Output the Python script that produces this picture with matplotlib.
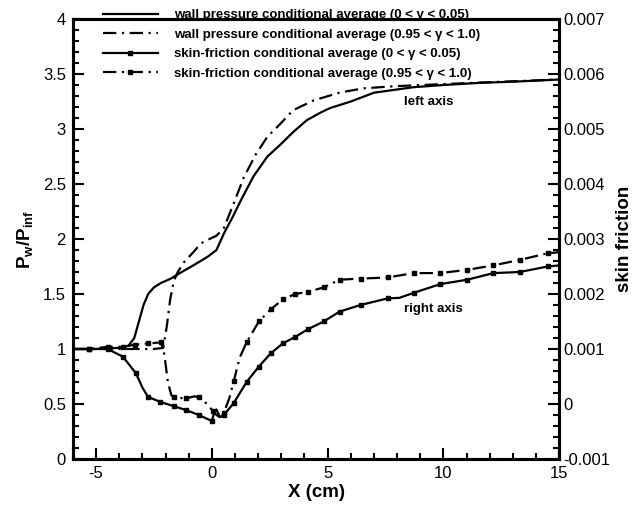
import numpy as np
import matplotlib
matplotlib.use("Agg")
import matplotlib.pyplot as plt
from matplotlib.ticker import MultipleLocator

plt.rcParams['font.family'] = ['Liberation Sans', 'DejaVu Sans']
plt.rcParams['mathtext.fontset'] = 'custom'
plt.rcParams['mathtext.rm'] = 'Liberation Sans'
plt.rcParams['mathtext.bf'] = 'Liberation Sans:bold'
plt.rcParams['axes.unicode_minus'] = False

# wall pressure, 0 < gamma < 0.05 (left axis)
p_lo_x = [-6, -5, -4, -3.6, -3.35, -3.15, -2.95, -2.75, -2.5, -2.2, -1.77, -1.3, -0.8, -0.17, 0.2,
          0.52, 0.9, 1.25, 1.8, 2.4, 2.97, 3.5, 4.1, 4.7, 5.1, 6.0, 7.0, 8.7, 10, 11.6, 13, 15]
p_lo_y = [1.0, 1.0, 1.01, 1.03, 1.1, 1.25, 1.4, 1.5, 1.56, 1.6, 1.64, 1.7, 1.76, 1.84, 1.9,
          2.05, 2.2, 2.35, 2.57, 2.75, 2.86, 2.97, 3.08, 3.15, 3.19, 3.25, 3.33, 3.38, 3.40, 3.42, 3.43, 3.45]

# wall pressure, 0.95 < gamma < 1.0 (left axis)
p_hi_x = [-6, -4, -2.5, -2.1, -1.95, -1.8, -1.64, -1.47, -1.2, -0.8, -0.47, -0.1, 0.2, 0.52, 0.9,
          1.38, 1.9, 2.4, 2.97, 3.5, 4.4, 5.5, 6.55, 8, 10.2, 12.5, 15]
p_hi_y = [1.0, 1.0, 1.0, 1.01, 1.2, 1.45, 1.62, 1.7, 1.79, 1.88, 1.96, 2.0, 2.03, 2.1, 2.3,
          2.56, 2.77, 2.93, 3.05, 3.17, 3.26, 3.33, 3.37, 3.39, 3.41, 3.43, 3.45]

# skin friction, 0 < gamma < 0.05 (right axis)
cf_lo_x = [-6, -5.3, -4.5, -3.84, -3.28, -3.0, -2.76, -2.24, -1.64, -1.12, -0.56, 0.0, 0.1, 0.2,
           0.35, 0.52, 0.95, 1.5, 2.03, 2.54, 3.06, 3.6, 4.15, 4.83, 5.52, 6.42, 7.59, 8.1, 8.71,
           9.87, 11.03, 12.16, 13.3, 14.5, 15]
cf_lo_y = [0.0010, 0.0010, 0.0010, 0.00086, 0.00056, 0.00030, 0.00013, 0.00004, -0.00004, -0.00011,
           -0.00020, -0.00031, -0.00016, -0.00010, -0.00024, -0.00020, 0.00002, 0.00040, 0.00068,
           0.00092, 0.00110, 0.00122, 0.00136, 0.00150, 0.00168, 0.00180, 0.00192, 0.00193, 0.00202,
           0.00218, 0.00226, 0.00238, 0.00240, 0.00250, 0.00252]
cf_lo_marks = [1, 2, 3, 4, 6, 7, 8, 9, 10, 11, 15, 16, 17, 18, 19, 20, 21, 22, 23, 24, 25, 26,
               28, 29, 30, 31, 32, 33]

# skin friction, 0.95 < gamma < 1.0 (right axis)
cf_hi_x = [-6, -5.3, -4.5, -3.84, -3.3, -2.76, -2.2, -2.05, -1.9, -1.75, -1.64, -1.12, -0.75, -0.56,
           -0.3, -0.1, 0.04, 0.2, 0.4, 0.52, 0.75, 0.95, 1.2, 1.5, 2.03, 2.54, 3.06, 3.6, 4.15, 4.83,
           5.52, 6.42, 7.59, 8.71, 9.87, 11.03, 12.16, 13.3, 14.5, 15]
cf_hi_y = [0.0010, 0.0010, 0.00104, 0.00104, 0.00108, 0.00110, 0.00112, 0.00090, 0.00040, 0.00016,
           0.00012, 0.00010, 0.00014, 0.00012, 0.00004, -0.00006, -0.00012, -0.00020, -0.00026,
           -0.00016, 0.00010, 0.00042, 0.00084, 0.00112, 0.00150, 0.00172, 0.00190, 0.00200, 0.00204,
           0.00212, 0.00226, 0.00228, 0.00230, 0.00238, 0.00238, 0.00244, 0.00252, 0.00262, 0.00274,
           0.00276]
cf_hi_marks = [1, 2, 3, 4, 5, 6, 10, 11, 13, 16, 19, 21, 23, 24, 25, 26, 27, 28, 29, 30, 31, 32,
               33, 34, 35, 36, 37, 38]

labels = ['wall pressure conditional average (0 < \u03b3 < 0.05)',
          'wall pressure conditional average (0.95 < \u03b3 < 1.0)',
          'skin-friction conditional average (0 < \u03b3 < 0.05)',
          'skin-friction conditional average (0.95 < \u03b3 < 1.0)']

dashdot = (6, 2.5, 1, 2.5)

fig = plt.figure(figsize=(6.34, 5.07), dpi=100)
ax = fig.add_axes([0.115, 0.0947, 0.767, 0.8678])
ax2 = ax.twinx()

l1, = ax.plot(p_lo_x, p_lo_y, color='black', lw=1.6)
l2, = ax.plot(p_hi_x, p_hi_y, color='black', lw=1.6, dashes=dashdot)
l3, = ax2.plot(cf_lo_x, cf_lo_y, color='black', lw=1.6, marker='s', markersize=3.2,
               markevery=cf_lo_marks)
l4, = ax2.plot(cf_hi_x, cf_hi_y, color='black', lw=1.6, dashes=dashdot, marker='s',
               markersize=3.2, markevery=cf_hi_marks)

ax.set_xlim(-6, 15)
ax.set_ylim(0, 4)
ax2.set_ylim(-0.001, 0.007)

ax.xaxis.set_major_locator(MultipleLocator(5))
ax.xaxis.set_minor_locator(MultipleLocator(1))
ax.yaxis.set_major_locator(MultipleLocator(0.5))
ax.yaxis.set_minor_locator(MultipleLocator(0.1))
ax2.yaxis.set_major_locator(MultipleLocator(0.001))
ax2.yaxis.set_minor_locator(MultipleLocator(0.0002))
ax.xaxis.set_major_formatter(plt.FuncFormatter(lambda v, p: '%g' % v))
ax.yaxis.set_major_formatter(plt.FuncFormatter(lambda v, p: '%g' % v))
ax2.yaxis.set_major_formatter(plt.FuncFormatter(lambda v, p: '%g' % round(v, 4)))

for a in (ax, ax2):
    a.tick_params(which='both', direction='in', labelsize=12, width=1.5)
    a.tick_params(which='major', length=8)
    a.tick_params(which='minor', length=4)
    for s in a.spines.values():
        s.set_linewidth(2.2)
ax.tick_params(top=False, right=False, pad=5)
ax2.tick_params(pad=3)

ax.set_xlabel('X (cm)', fontsize=13.5, fontweight='bold', labelpad=2)
ax.set_ylabel(r'$\mathbf{P_w/P_{inf}}$', fontsize=13.5, labelpad=6)
ax2.set_ylabel('skin friction', fontsize=13.5, fontweight='bold', labelpad=4)

ax.text(9.35, 3.245, 'left axis', fontsize=9.5, fontweight='bold', ha='center', va='center')
ax.text(9.57, 1.36, 'right axis', fontsize=9.5, fontweight='bold', ha='center', va='center')

leg = ax.legend([l1, l2, l3, l4], labels, loc='upper left', bbox_to_anchor=(0.05, 1.035),
                frameon=False, prop={'weight': 'bold', 'size': 9.5}, handlelength=4.2,
                handletextpad=1.2, labelspacing=0.56, borderaxespad=0)

fig.savefig('out.png', dpi=100)
